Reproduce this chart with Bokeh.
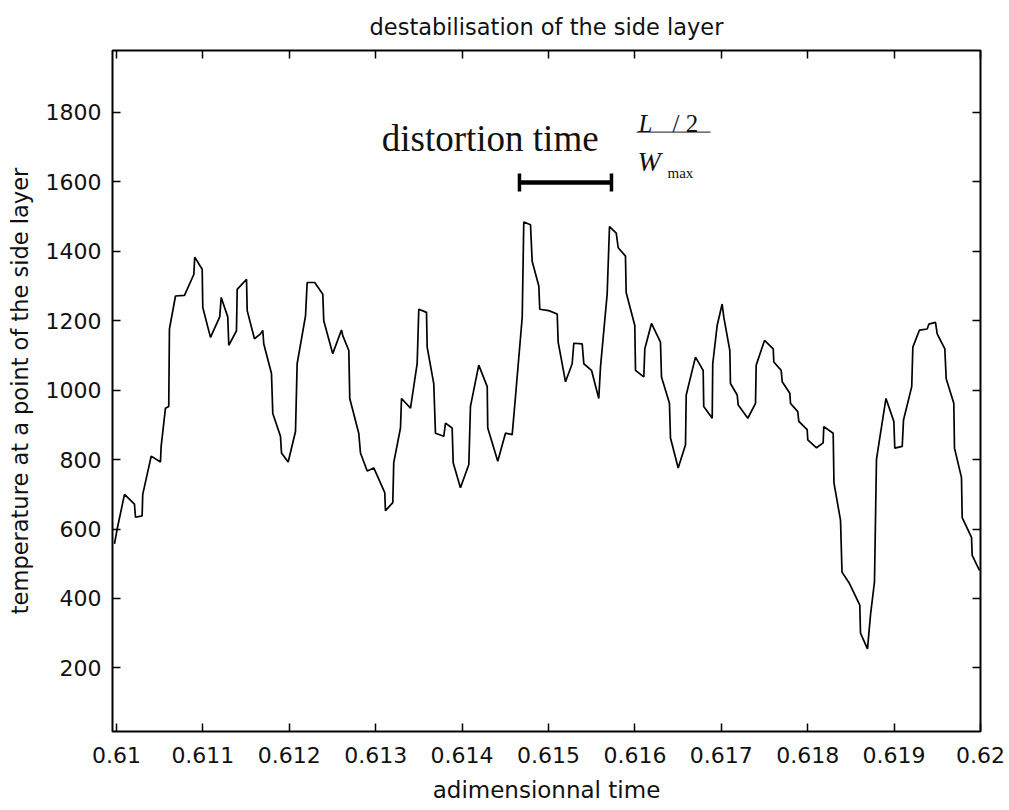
from bokeh.plotting import figure
from bokeh.models import LinearAxis, FixedTicker, Label, Range1d
from bokeh.embed import file_html
from bokeh.resources import INLINE

# ---- data ----
time = [0.609977, 0.610008, 0.610093, 0.610208, 0.610220, 0.610297, 0.610304, 0.610402, 0.610509, 0.610517,
        0.610567, 0.610605, 0.610613, 0.610683, 0.610787, 0.610895, 0.610906, 0.610992, 0.610999,
        0.611088, 0.611195, 0.611212, 0.611288, 0.611300, 0.611389, 0.611397, 0.611505, 0.611513, 0.611597, 0.611667,
        0.611693, 0.611705, 0.611794, 0.611809, 0.611898, 0.611910, 0.611987,
        0.612072, 0.612091, 0.612188, 0.612207, 0.612295, 0.612388, 0.612399, 0.612503, 0.612604, 0.612619,
        0.612689, 0.612700, 0.612804, 0.612824, 0.612902, 0.612978,
        0.613105, 0.613113, 0.613198, 0.613209, 0.613287, 0.613299,
        0.613403, 0.613480, 0.613499, 0.613588, 0.613596, 0.613672, 0.613692, 0.613788, 0.613808, 0.613885,
        0.613897, 0.613981,
        0.614078, 0.614097, 0.614193, 0.614291, 0.614297, 0.614413, 0.614502, 0.614580, 0.614618, 0.614696,
        0.614714, 0.614792, 0.614811, 0.614888, 0.614899,
        0.615003,
        0.615101, 0.615112, 0.615197, 0.615274, 0.615293, 0.615390, 0.615409, 0.615498, 0.615582, 0.615602,
        0.615679, 0.615706, 0.615784, 0.615807, 0.615891, 0.615899, 0.615999,
        0.616007, 0.616103, 0.616115, 0.616192, 0.616296, 0.616308, 0.616400, 0.616412, 0.616501, 0.616586,
        0.616594, 0.616701,
        0.616790, 0.616797, 0.616895, 0.616901, 0.616952,
        0.617010, 0.617029, 0.617099, 0.617106, 0.617184, 0.617196, 0.617307, 0.617396, 0.617404, 0.617500,
        0.617601, 0.617608, 0.617693, 0.617705, 0.617793, 0.617801, 0.617885, 0.617897, 0.617994,
        0.618001, 0.618102, 0.618179, 0.618186, 0.618295, 0.618304, 0.618380, 0.618397, 0.618484, 0.618603,
        0.618611, 0.618692, 0.618727, 0.618773, 0.618796, 0.618819, 0.618843, 0.618906, 0.618997,
        0.619008, 0.619094, 0.619109, 0.619204, 0.619217, 0.619294, 0.619383, 0.619402, 0.619479, 0.619499,
        0.619587, 0.619603, 0.619691, 0.619699, 0.619780, 0.619788, 0.619896, 0.619904, 0.619988]

temperature = [557, 600, 700, 672, 634, 638, 700, 810, 793, 838,
               948, 953, 1176, 1271, 1273, 1333, 1383, 1348, 1238,
               1152, 1211, 1267, 1211, 1129, 1171, 1290, 1319, 1229, 1148, 1162,
               1172, 1133, 1048, 933, 867, 819, 793,
               881, 1076, 1214, 1310, 1310, 1276, 1200, 1105, 1173, 1157,
               1114, 976, 876, 819, 767, 776,
               705, 653, 676, 791, 891, 976,
               948, 1076, 1233, 1224, 1124, 1019, 876, 867, 905, 891,
               791, 719,
               786, 953, 1072, 1010, 891, 795, 876, 872, 981, 1210,
               1484, 1476, 1371, 1300, 1233,
               1229,
               1219, 1138, 1024, 1076, 1135, 1133, 1076, 1057, 976, 1067,
               1276, 1471, 1452, 1410, 1386, 1281, 1186,
               1057, 1038, 1119, 1192, 1138, 1038, 962, 862, 776, 843,
               986, 1095,
               1057, 953, 919, 1076, 1186,
               1248, 1210, 1114, 1019, 986, 957, 919, 962, 1072, 1143,
               1119, 1081, 1057, 1024, 991, 962, 938, 910, 886,
               857, 834, 848, 895, 876, 733, 625, 476, 443, 381,
               300, 255, 353, 448, 800, 838, 876, 976, 910,
               833, 838, 914, 1010, 1124, 1173, 1176, 1190, 1195, 1162,
               1119, 1033, 962, 833, 748, 633, 576, 524, 481]

x_ticks = [0.610, 0.611, 0.612, 0.613, 0.614, 0.615, 0.616, 0.617, 0.618, 0.619, 0.620]
x_tick_labels = ["0.61", "0.611", "0.612", "0.613", "0.614", "0.615", "0.616", "0.617", "0.618", "0.619", "0.62"]
y_ticks = [200, 400, 600, 800, 1000, 1200, 1400, 1600, 1800]

# distortion-time bar (data coordinates)
bar_start, bar_end, bar_level = 0.614664, 0.615729, 1598

FONT = "DejaVu Sans"
SERIF = "Liberation Serif"
INK = "#111111"

p = figure(width=1005, height=805,
           x_range=Range1d(0.609954, 0.62), y_range=Range1d(17, 1978),
           output_backend="svg", toolbar_location=None,
           min_border_left=112, min_border_right=25,
           min_border_top=50, min_border_bottom=72)

p.grid.visible = False
p.outline_line_color = "black"
p.outline_line_width = 2
p.background_fill_color = "white"
p.border_fill_color = "white"

p.title.text = "destabilisation of the side layer"
p.title.align = "center"
p.title.text_font = FONT
p.title.text_font_size = "22.5px"
p.title.text_font_style = "normal"
p.title.text_color = INK
p.title.standoff = 22

def style_axis(ax):
    ax.axis_line_color = None
    ax.major_tick_in = 8
    ax.major_tick_out = 0
    ax.major_tick_line_width = 1.5
    ax.major_tick_line_color = "black"
    ax.minor_tick_line_color = None
    ax.major_label_text_font = FONT
    ax.major_label_text_font_size = "22px"
    ax.major_label_text_color = INK

xa = p.xaxis[0]
style_axis(xa)
xa.ticker = FixedTicker(ticks=x_ticks)
xa.major_label_overrides = {t: l for t, l in zip(x_ticks, x_tick_labels)}
xa.major_label_standoff = 15
xa.axis_label = "adimensionnal time"
xa.axis_label_text_font = FONT
xa.axis_label_text_font_size = "23px"
xa.axis_label_text_font_style = "normal"
xa.axis_label_text_color = INK
xa.axis_label_standoff = 11

ya = p.yaxis[0]
style_axis(ya)
ya.ticker = FixedTicker(ticks=y_ticks)
ya.major_label_standoff = 11
ya.axis_label = "temperature at a point of the side layer"
ya.axis_label_text_font = FONT
ya.axis_label_text_font_size = "22.5px"
ya.axis_label_text_font_style = "normal"
ya.axis_label_text_color = INK
ya.axis_label_standoff = 10

top = LinearAxis(ticker=FixedTicker(ticks=x_ticks),
                 major_label_overrides={t: "" for t in x_ticks})
style_axis(top)
p.add_layout(top, "above")
right = LinearAxis(ticker=FixedTicker(ticks=y_ticks),
                   major_label_overrides={t: "" for t in y_ticks})
style_axis(right)
p.add_layout(right, "right")

p.line(time, temperature, line_color="black", line_width=1.7)

# distortion time bar with end caps
p.segment(x0=[bar_start], y0=[bar_level], x1=[bar_end], y1=[bar_level],
          line_color="black", line_width=4.5)
p.segment(x0=[bar_start, bar_end], y0=[bar_level - 26, bar_level - 26],
          x1=[bar_start, bar_end], y1=[bar_level + 26, bar_level + 26],
          line_color="black", line_width=3.5)

p.add_layout(Label(x=0.61307, y=1725, text="distortion time",
                   text_font=SERIF, text_font_size="37px",
                   text_color=INK, text_baseline="alphabetic"))
p.add_layout(Label(x=0.616042, y=1768, text="L",
                   text_font=SERIF, text_font_size="25px", text_font_style="italic",
                   text_color=INK, text_baseline="alphabetic"))
p.add_layout(Label(x=0.616435, y=1768, text="/ 2",
                   text_font=SERIF, text_font_size="25px",
                   text_color=INK, text_baseline="alphabetic"))
p.segment(x0=[0.616019], y0=[1743], x1=[0.616875], y1=[1743],
          line_color="#444444", line_width=1.3)
p.add_layout(Label(x=0.616030, y=1657, text="W",
                   text_font=SERIF, text_font_size="28px", text_font_style="italic",
                   text_color=INK, text_baseline="alphabetic"))
p.add_layout(Label(x=0.616377, y=1625, text="max",
                   text_font=SERIF, text_font_size="15px",
                   text_color=INK, text_baseline="alphabetic"))

open("out.html", "w").write(file_html(p, INLINE))
